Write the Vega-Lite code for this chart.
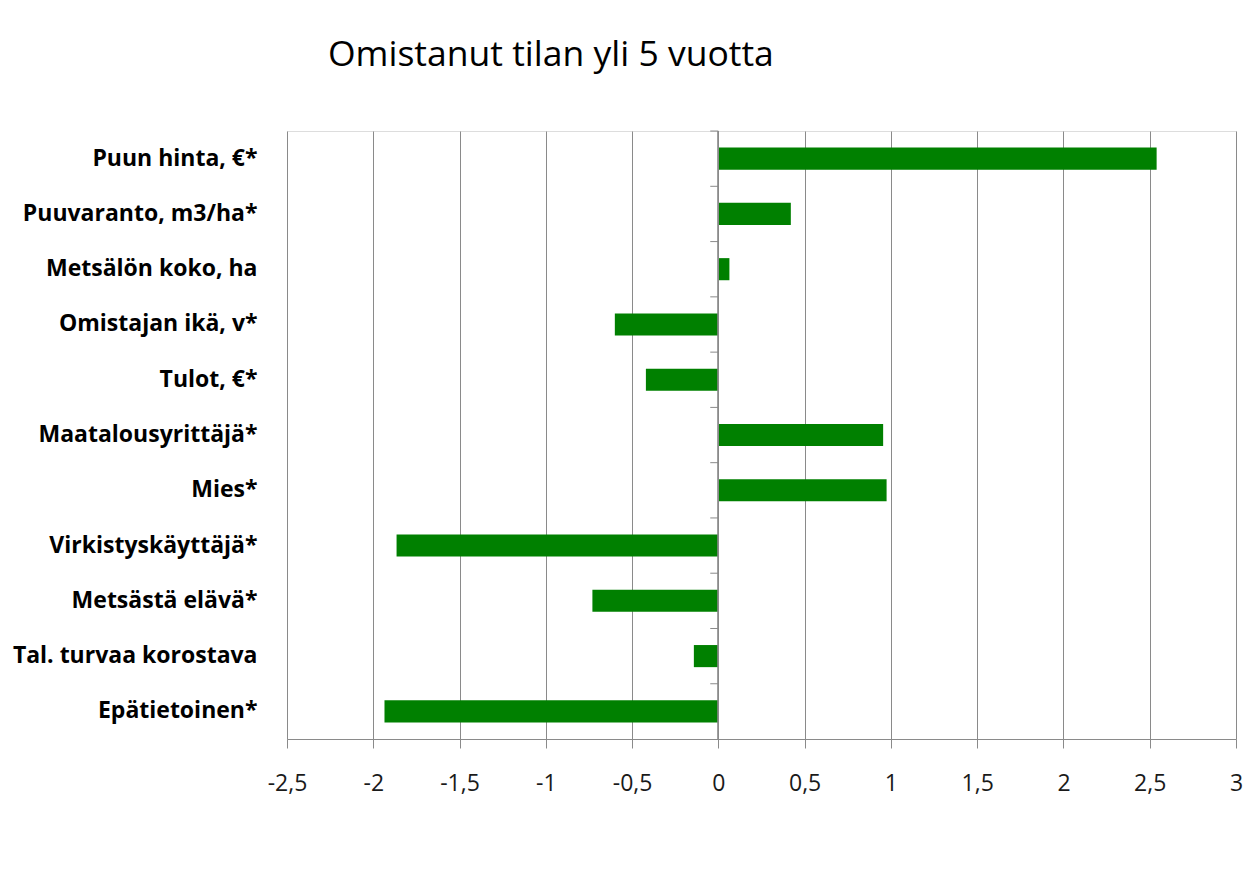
{
  "$schema": "https://vega.github.io/schema/vega-lite/v6.json",
  "width": 949,
  "height": 608,
  "autosize": {"type": "none"},
  "padding": {"left": 287, "top": 131, "right": 9, "bottom": 145},
  "background": "white",
  "title": {
    "text": "Omistanut tilan yli 5 vuotta",
    "font": "Open Sans",
    "fontSize": 35.5,
    "fontWeight": "normal",
    "color": "#000000",
    "anchor": "start",
    "frame": "group",
    "dx": 41,
    "baseline": "alphabetic",
    "offset": 29
  },
  "data": {
    "values": [
      {"muuttuja": "Puun hinta, €*", "arvo": 2.54},
      {"muuttuja": "Puuvaranto, m3/ha*", "arvo": 0.42},
      {"muuttuja": "Metsälön koko, ha", "arvo": 0.064},
      {"muuttuja": "Omistajan ikä, v*", "arvo": -0.6},
      {"muuttuja": "Tulot, €*", "arvo": -0.42},
      {"muuttuja": "Maatalousyrittäjä*", "arvo": 0.955},
      {"muuttuja": "Mies*", "arvo": 0.975},
      {"muuttuja": "Virkistyskäyttäjä*", "arvo": -1.865},
      {"muuttuja": "Metsästä elävä*", "arvo": -0.73},
      {"muuttuja": "Tal. turvaa korostava", "arvo": -0.142},
      {"muuttuja": "Epätietoinen*", "arvo": -1.935}
    ]
  },
  "encoding": {
    "y": {
      "field": "muuttuja",
      "type": "nominal",
      "sort": null,
      "title": null,
      "scale": {"paddingInner": 0.6, "paddingOuter": 0.3},
      "axis": {
        "domain": false,
        "ticks": false,
        "labelPadding": 30,
        "labelFont": "Open Sans",
        "labelFontSize": 23,
        "labelFontWeight": "bold",
        "labelColor": "#000000",
        "labelLimit": 400
      }
    }
  },
  "layer": [
    {
      "mark": {"type": "bar", "color": "#008000"},
      "encoding": {
        "x": {
          "field": "arvo",
          "type": "quantitative",
          "title": null,
          "scale": {"domain": [-2.5, 3], "nice": false, "zero": false},
          "axis": {
            "values": [-2.5, -2, -1.5, -1, -0.5, 0, 0.5, 1, 1.5, 2, 2.5, 3],
            "labelExpr": "replace(toString(datum.value), '.', ',')",
            "grid": true,
            "gridColor": "#8a8a8a",
            "gridWidth": 1,
            "domainColor": "#8a8a8a",
            "tickColor": "#8a8a8a",
            "tickSize": 9,
            "labelPadding": 24,
            "labelFont": "Open Sans",
            "labelFontSize": 23,
            "labelColor": "#1a1a1a",
            "labelFlush": false
          }
        }
      }
    },
    {
      "mark": {"type": "rule", "color": "#8a8a8a", "strokeWidth": 1, "yOffset": -27.6},
      "encoding": {
        "x": {"datum": 0},
        "x2": {"datum": -0.047}
      }
    },
    {
      "mark": {"type": "rule", "color": "#8a8a8a", "strokeWidth": 1},
      "encoding": {
        "x": {"datum": 0},
        "y": null
      }
    }
  ]
}
